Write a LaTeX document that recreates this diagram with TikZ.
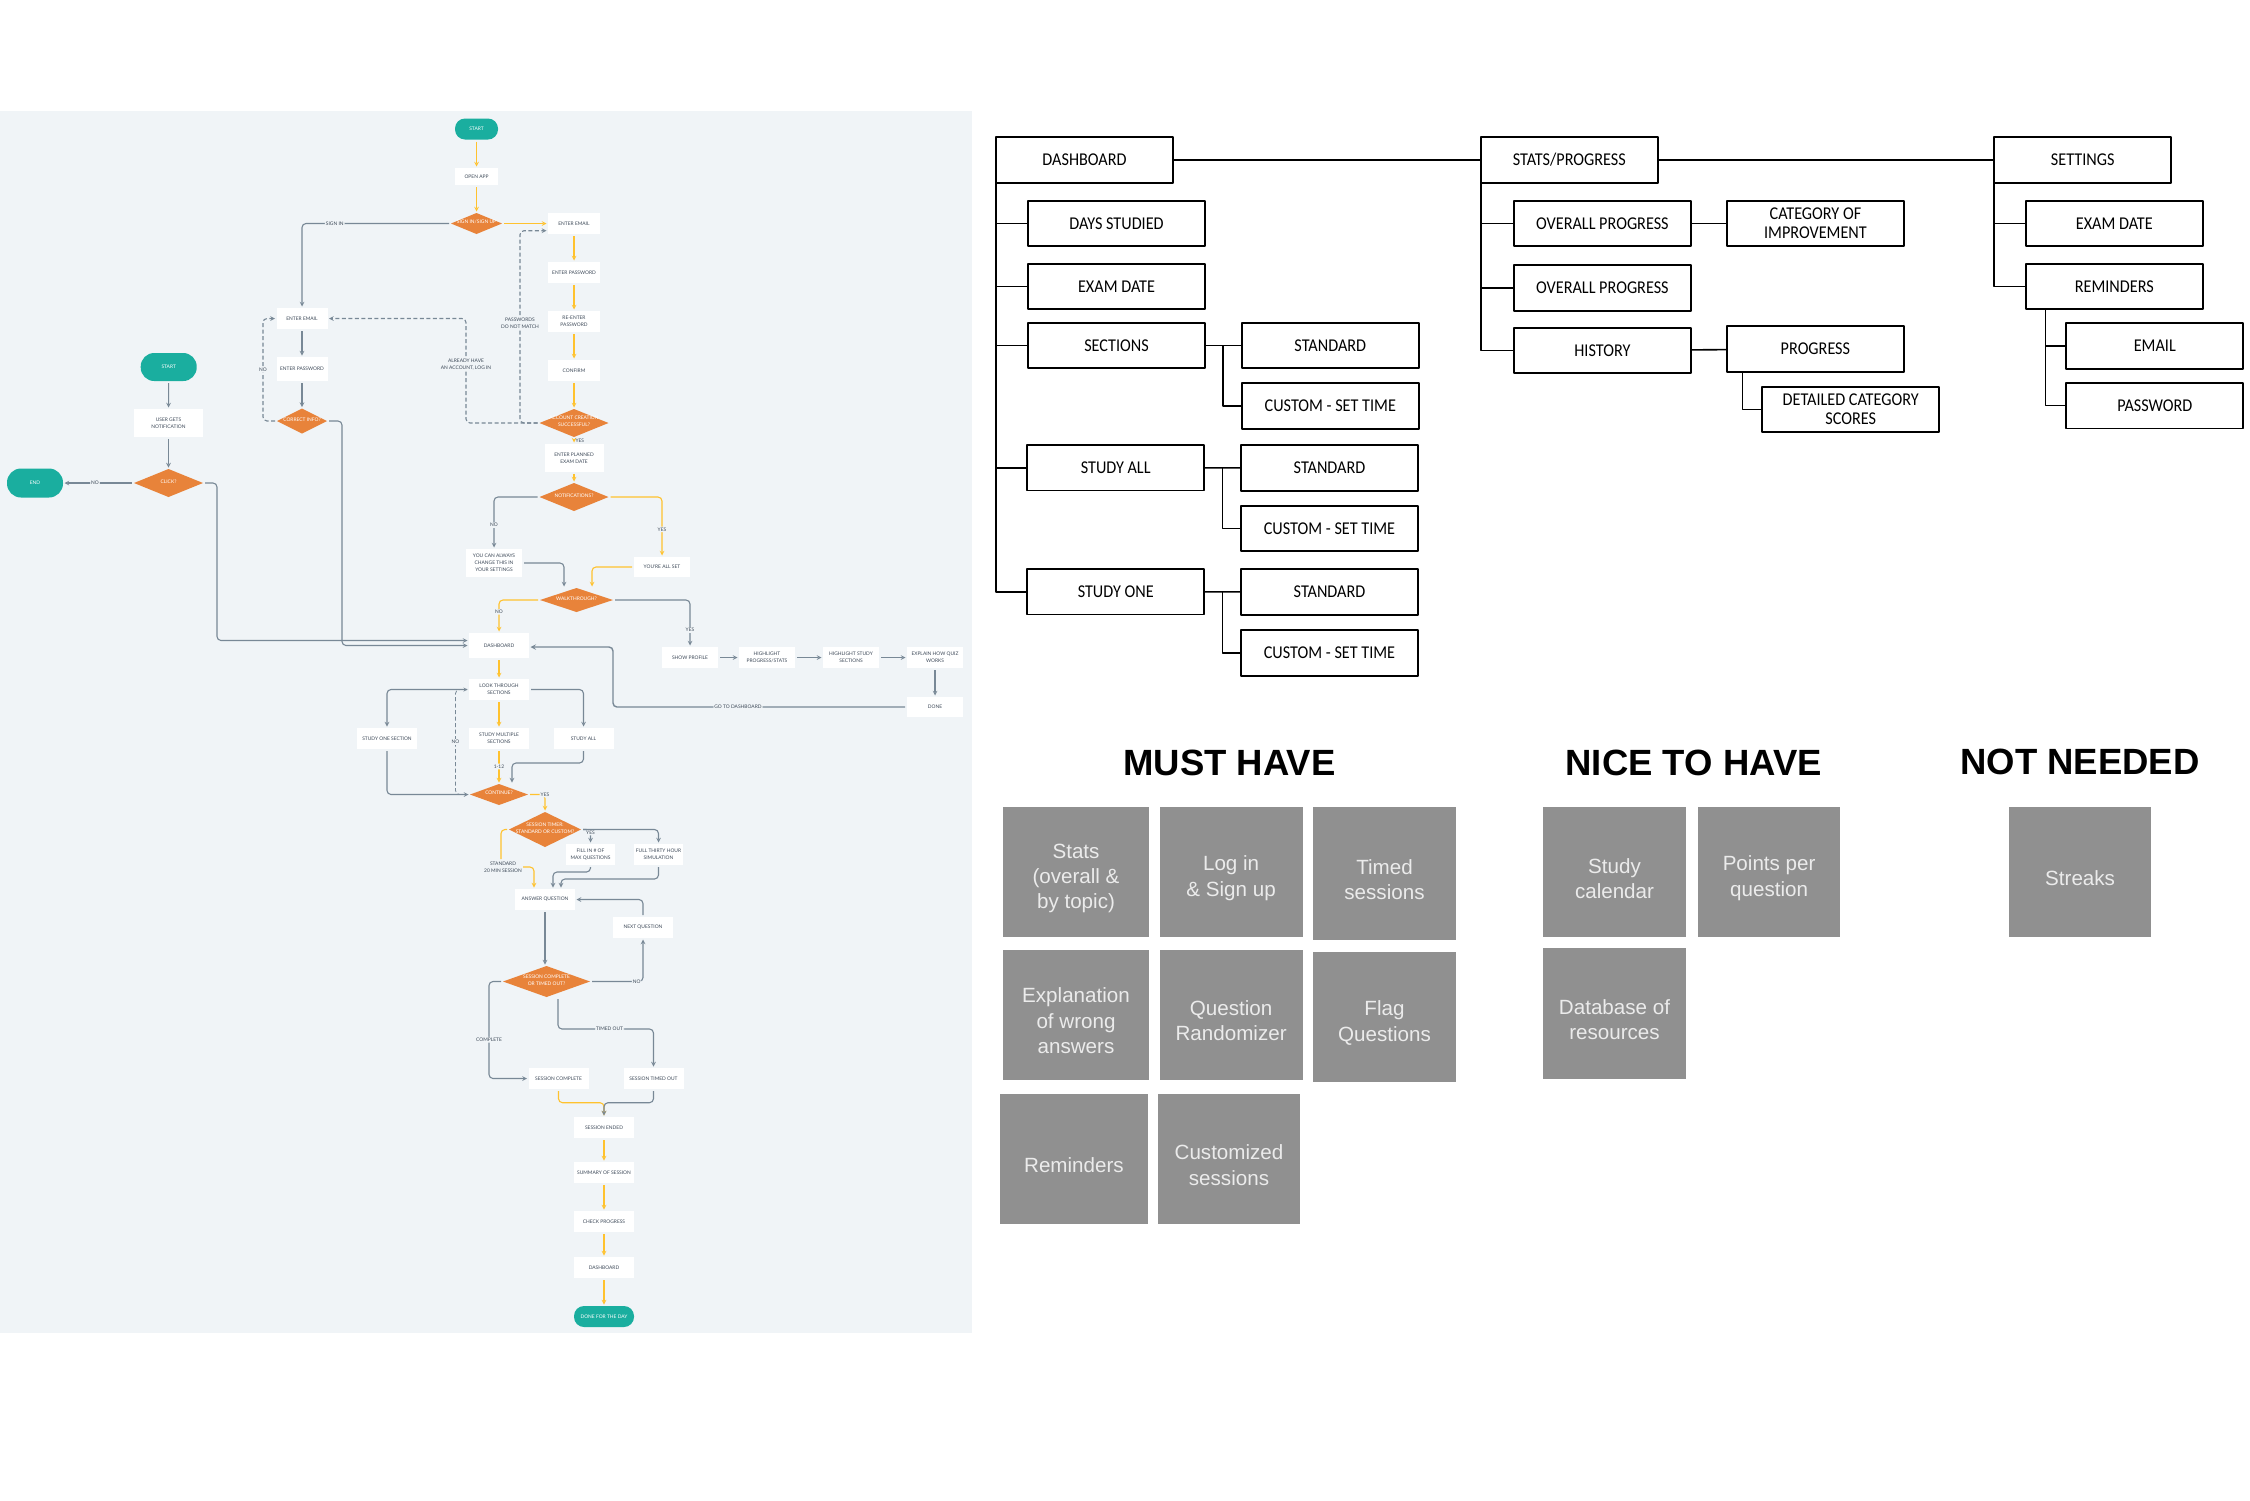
\documentclass[tikz,border=0pt]{standalone}
\usepackage{fontspec}
\setmainfont{Liberation Sans}
\newfontfamily\flowfont{Lato}
\newfontfamily\treefont[FakeStretch=.9]{Carlito}
\usetikzlibrary{shapes.geometric}
\definecolor{panelbg}{HTML}{F0F4F7}
\definecolor{flowgray}{HTML}{788896}
\definecolor{flowyel}{HTML}{FFC22E}
\definecolor{floworange}{HTML}{E8833A}
\definecolor{flowteal}{HTML}{1AAE9F}
\definecolor{flowtext}{HTML}{3E4A59}
\definecolor{cardgray}{HTML}{909090}
\newcommand{\dlabel}[1]{\smash{\makebox[0pt]{\begin{tabular}{@{}c@{}}#1\end{tabular}}}}
\begin{document}
\begin{tikzpicture}[x=1pt,y=-1pt,line join=round,>=stealth,
	fbox/.style={fill=white,inner sep=0pt,outer sep=0pt,align=center,text=flowtext,font=\flowfont\fontsize{4.9}{7}\selectfont},
	fdia/.style={diamond,fill=floworange,inner sep=0pt,outer sep=0pt,text=white,font=\flowfont\fontsize{4.9}{7}\selectfont},
	fterm/.style={fill=flowteal,inner sep=0pt,outer sep=0pt,text=white,font=\flowfont\fontsize{4.9}{7}\selectfont},
	gflow/.style={draw=flowgray,line width=1.1pt,rounded corners=4pt,shorten <=2pt,shorten >=1.5pt,->},
	yflow/.style={draw=flowyel,line width=1.1pt,rounded corners=4pt,shorten <=2pt,shorten >=1.5pt,->},
	dflow/.style={gflow,dash pattern=on 4pt off 2.5pt},
	lab/.style={fill=panelbg,inner sep=1pt,align=center,text=flowtext,font=\flowfont\fontsize{4.9}{7}\selectfont},
	treebox/.style={draw=black,line width=1.8pt,inner sep=0pt,outer sep=0pt,minimum width=177pt,minimum height=45.5pt,align=center,font=\treefont\fontsize{18}{19}\selectfont},
	tree/.style={draw=black,line width=1.6pt},
	card/.style={fill=cardgray,inner sep=0pt},
	head/.style={inner sep=0pt,font=\bfseries\fontsize{36.5}{40}\selectfont}]
	\path[use as bounding box,fill=white] (0,0) rectangle (2250,1500);
	\fill[panelbg] (0,111) rectangle (971.5,1333);
	% flowchart boxes
	\foreach \n/\x/\y/\w/\h/\txt in {
		openapp/476.5/176.5/43/17/OPEN APP,
		semail/574/223.5/52/21/ENTER EMAIL,
		spass/574/272.5/52/21/ENTER PASSWORD,
		srepass/574/321.5/52/21/RE-ENTER\\PASSWORD,
		sconfirm/574/370.5/52/21/CONFIRM,
		planned/574/458/59/28/ENTER PLANNED\\EXAM DATE,
		youcan/494/563/56/28/YOU CAN ALWAYS\\CHANGE THIS IN\\YOUR SETTINGS,
		youset/662/567/56/20/YOU'RE ALL SET,
		eemail/302/318.5/51/21/ENTER EMAIL,
		epass/302/369/51/24/ENTER PASSWORD,
		usernot/168.5/423/69/28/USER GETS\\NOTIFICATION,
		board/499/645.5/60/25/DASHBOARD,
		look/499/689.5/60/21/LOOK THROUGH\\SECTIONS,
		multi/499/738.5/60/21/STUDY MULTIPLE\\SECTIONS,
		studyall/583.5/738.5/60/21/STUDY ALL,
		studyone/387/738.5/60/21/STUDY ONE SECTION,
		showp/690/657.5/56/21/SHOW PROFILE,
		hlprog/767/657.5/56/21/{HIGHLIGHT\\PROGRESS/STATS},
		hlstudy/851/657.5/56/21/HIGHLIGHT STUDY\\SECTIONS,
		explain/935/657.5/56/21/EXPLAIN HOW QUIZ\\WORKS,
		donebox/935/707/56/20/DONE,
		fillq/590.5/854.5/49/21/FILL IN \# OF\\MAX QUESTIONS,
		fullq/658.5/854.5/49/21/FULL THIRTY HOUR\\SIMULATION,
		answer/545/899.5/60/21/ANSWER QUESTION,
		nextq/643/927.5/60/21/NEXT QUESTION,
		scbox/558.5/1078.5/60/21/SESSION COMPLETE,
		timedout/653.5/1078.5/60/21/SESSION TIMED OUT,
		ended/604/1127.5/60/21/SESSION ENDED,
		summary/604/1172.5/60/21/SUMMARY OF SESSION,
		check/604/1221.5/60/21/CHECK PROGRESS,
		boardb/604/1267.5/60/21/DASHBOARD}
		\node[fbox,minimum width=\w pt,minimum height=\h pt] (\n) at (\x,\y) {\txt};
	% decisions
	\foreach \n/\x/\y/\w/\h/\txt in {
		signin/476.5/223.5/51/21/{SIGN IN/SIGN UP},
		account/574/423/69/28/ACCOUNT CREATION\\SUCCESSFUL?,
		correct/302/421/50/25/CORRECT INFO?,
		click/168.5/483/69/28/CLICK?,
		notif/574/497/69/28/NOTIFICATIONS?,
		walk/576.5/600/73/24/WALKTHROUGH?,
		contin/499/794.5/58/21/CONTINUE?,
		timer/545/829.5/72/35/SESSION TIMER:\\STANDARD OR CUSTOM?,
		scdia/546.5/981.5/87/31/SESSION COMPLETE\\OR TIMED OUT?}
		\node[fdia,minimum width=\w pt,minimum height=\h pt] (\n) at (\x,\y) {\dlabel{\txt}};
	% start and end
	\foreach \n/\x/\y/\w/\h/\r/\txt in {
		tstart/476.5/129/43/21/10/START,
		lstart/168.7/367/56/28/13.5/START,
		lend/35/483/56/29/14/END,
		donedy/604/1316.5/60/21/10/DONE FOR THE DAY}
		\node[fterm,rounded corners=\r pt,minimum width=\w pt,minimum height=\h pt] (\n) at (\x,\y) {\txt};
	\node[lab,fill=none] (stdlab) at (503,867) {STANDARD\\20 MIN SESSION};
	% yellow path
	\foreach \a/\b in {tstart/openapp,openapp/signin,signin/semail,semail/spass,spass/srepass,srepass/sconfirm,sconfirm/account,planned/notif,board/look,look/multi,ended/summary,summary/check,check/boardb,boardb/donedy}
		\draw[yflow] (\a) -- (\b);
	\draw[yflow] (account) -- (planned) node[midway,right,text=flowtext,inner sep=1pt,font=\flowfont\fontsize{4.9}{7}\selectfont] {YES};
	\draw[yflow] (notif) -| node[lab,pos=.77] {YES} (youset);
	\draw[yflow] (youset) -| ([xshift=15.5pt]walk.north);
	\draw[yflow] (walk) -| node[lab,pos=.68] {NO} (board);
	\draw[yflow] (multi) -- node[lab] {1-12} (contin);
	\draw[yflow] (contin) -| node[lab,pos=.5] {YES} (timer);
	\draw[yflow,-] (timer) -| ([xshift=-2pt]stdlab.north);
	\draw[yflow,shorten <=0pt] (stdlab.east) -| ([xshift=-11pt]answer.north);
	\draw[yflow] (scbox.south) -- (558.5,1102.7) -| (ended.north);
	% gray path
	\foreach \a/\b in {lstart/usernot,usernot/click,showp/hlprog,hlprog/hlstudy,hlstudy/explain,explain/donebox}
		\draw[gflow] (\a) -- (\b);
	\draw[gflow] (click) -- node[lab,pos=.55] {NO} (lend);
	\draw[gflow] (signin) -| node[lab,pos=.39] {SIGN IN} (eemail);
	\draw[gflow] (eemail) -- (epass);
	\draw[gflow] (epass) -- (correct);
	\draw[gflow] (click.east) -- (217,483) |- ([yshift=5pt]board.west);
	\draw[gflow] (correct.east) -- (342,421) |- (board.west);
	\draw[gflow] (notif) -| node[lab,pos=.77] {NO} (youcan);
	\draw[gflow] (youcan) -| ([xshift=-12.5pt]walk.north);
	\draw[gflow] (walk) -| node[lab,pos=.82] {YES} (showp);
	\draw[gflow,line width=1.4pt] (donebox.west) -- node[lab,pos=.575] {GO TO DASHBOARD} (613,707) |- ([yshift=-1.5pt]board.east);
	\draw[gflow] (look) -| (studyone);
	\draw[gflow] (look) -| (studyall);
	\draw[gflow] (studyone) |- (contin);
	\draw[gflow] (studyall.south) -- (583.5,763) -| ([xshift=13pt]contin.north);
	\draw[gflow] (timer.east) -| node[lab,pos=.5,yshift=-3pt] {YES} (fillq);
	\draw[gflow] (timer.east) -| (fullq);
	\draw[gflow] (fillq.south) -- (590.5,872) -| ([xshift=8pt]answer.north);
	\draw[gflow] (fullq.south) -- (658.5,879) -| ([xshift=16pt]answer.north);
	\draw[gflow] (answer.south) -- (answer.south |- scdia.north);
	\draw[gflow] (nextq.north) |- (answer.east);
	\draw[gflow] (scdia.east) -| node[lab,pos=.44] {NO} (nextq.south);
	\draw[gflow] (scdia.west) -- (489,981.5) |- node[lab,pos=.3] {COMPLETE} (scbox.west);
	\draw[gflow] ([xshift=11.5pt]scdia.south) -- (558,1029) -| node[lab,pos=.27] {TIMED OUT} (timedout.north);
	\draw[gflow] (timedout.south) -- (653.5,1102.7) -| (ended.north);
	% dashed returns
	\draw[dflow] (account.west) -- (520,423) |- node[lab,pos=.26] {PASSWORDS\\DO NOT MATCH} ([yshift=-7.2pt]semail.west);
	\draw[dflow] (account.west) -- (466,423) |- node[lab,pos=.28] {ALREADY HAVE\\AN ACCOUNT, LOG IN} (eemail.east);
	\draw[dflow] (correct.west) -- (263,421) |- node[lab,pos=.25] {NO} (eemail.west);
	\draw[dflow,line width=.8pt] (contin.west) -- (455.5,794.5) |- node[lab,pos=.25] {NO} (look.west);
	% site map
	\foreach \n/\x/\y/\txt in {
		tdash/1084.5/160/DASHBOARD,
		tstats/1569.3/160/{STATS/PROGRESS},
		tset/2082.7/160/SETTINGS,
		tdays/1116.5/223.4/DAYS STUDIED,
		texam/1116.5/286.5/EXAM DATE,
		tsec/1116.5/345.5/SECTIONS,
		tstda/1330.3/345.5/STANDARD,
		tcusa/1330.3/406/CUSTOM - SET TIME,
		tall/1115.7/467.7/STUDY ALL,
		tstdb/1329.5/468/STANDARD,
		tcusb/1329.5/528.5/CUSTOM - SET TIME,
		tone/1115.7/591.7/STUDY ONE,
		tstdc/1329.5/592/STANDARD,
		tcusc/1329.5/653/CUSTOM - SET TIME,
		tovera/1602.4/223.4/OVERALL PROGRESS,
		tcat/1815.4/223.4/CATEGORY OF\\IMPROVEMENT,
		toverb/1602.4/288/OVERALL PROGRESS,
		thist/1602.4/350.5/HISTORY,
		tprog/1815.4/349/PROGRESS,
		tdet/1850.7/409.5/DETAILED CATEGORY\\SCORES,
		texamb/2114.3/223.4/EXAM DATE,
		trem/2114.3/286.5/REMINDERS,
		temail/2154.8/346/EMAIL,
		tpass/2154.8/405.7/PASSWORD}
		\node[treebox] (\n) at (\x,\y) {\txt};
	\draw[tree] (tdash) -- (tstats);
	\draw[tree] (tstats) -- (tset);
	\foreach \b in {tdays,texam,tsec,tall,tone}
		\draw[tree] (tdash.south west) |- (\b.west);
	\foreach \b in {tovera,toverb,thist}
		\draw[tree] (tstats.south west) |- (\b.west);
	\foreach \b in {texamb,trem}
		\draw[tree] (tset.south west) |- (\b.west);
	\foreach \a/\b/\c in {tsec/tstda/tcusa,tall/tstdb/tcusb,tone/tstdc/tcusc} {
		\draw[tree] (\a) -- (\b);
		\draw[tree,line width=1.2pt] ([xshift=18pt]\a.east) |- (\c.west);
	}
	\draw[tree] (tovera) -- (tcat);
	\draw[tree] (thist) -- (tprog);
	\draw[tree,line width=1.2pt] ([xshift=15.5pt]tprog.south west) |- (tdet.west);
	\draw[tree,line width=1.2pt] ([xshift=20pt]trem.south west) |- (temail.west);
	\draw[tree,line width=1.2pt] ([xshift=20pt]trem.south west) |- (tpass.west);
	% priority cards
	\node[head] (hmust) at (1229.5,762.5) {MUST HAVE};
	\node[head] (hnice) at (1693.6,762.5) {NICE TO HAVE};
	\node[head] (hnot) at (2080,762) {NOT NEEDED};
	\foreach \n/\xa/\ya/\xb/\yb/\txt in {
		cstats/1003/807.3/1149/937.3/Stats\\(overall \&\\by topic),
		clog/1159.6/807.3/1302.6/937.3/Log in\\\& Sign up,
		ctimed/1313/807.3/1456/939.6/Timed\\sessions,
		cexpl/1003/949.6/1149/1080.2/Explanation\\of wrong\\answers,
		cques/1159.6/949.6/1302.6/1080.2/Question\\Randomizer,
		cflag/1313/951.6/1456/1082.2/Flag\\Questions,
		crem/1000.4/1093.8/1147.5/1224.2/Reminders,
		ccust/1158/1093.8/1300/1224.2/Customized\\sessions,
		cstudy/1543/807.3/1686/937.3/Study\\calendar,
		cpts/1698/807.3/1840.2/937.3/Points per\\question,
		cdata/1543/948.2/1686/1078.9/Database of\\resources,
		cstreak/2009/807.3/2151.2/937.3/Streaks}
		\path[card] (\xa,\ya) rectangle node[inner sep=0pt,align=center,text=white!92!black,yshift=-6pt,font=\fontsize{20.6}{25.3}\selectfont] (\n) {\txt} (\xb,\yb);
\end{tikzpicture}
\end{document}
